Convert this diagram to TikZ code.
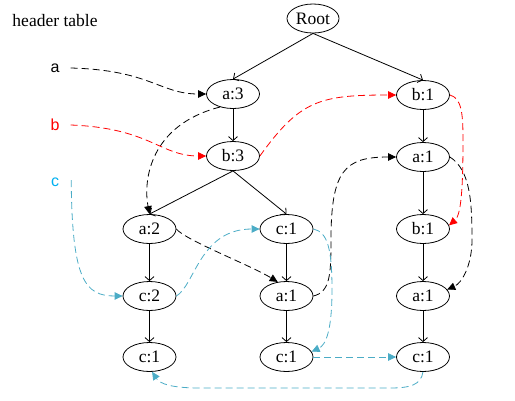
\documentclass[tikz,border=0pt]{standalone}
\usepackage{fontspec}
\setmainfont{Liberation Serif}
\newfontfamily\hdrsans{Liberation Sans}
\usetikzlibrary{arrows.meta,shapes.geometric}
\definecolor{hdrblue}{RGB}{0,176,240}
\definecolor{linkblue}{RGB}{75,172,198}
\tikzset{
  tnode/.style={ellipse,draw,line width=0.8pt,minimum width=53pt,minimum height=29pt,inner sep=0pt,
    font=\fontsize{17.5}{20}\selectfont},
  hdr/.style={font=\hdrsans\fontsize{16}{18}\selectfont,inner sep=2pt},
  tree/.style={line width=0.8pt,-{Straight Barb[length=4pt,width=9pt]}},
  link/.style={line width=0.8pt,dash pattern=on 7pt off 4pt,-{Triangle[length=8pt,width=7.5pt]}},
}
\begin{document}
\begin{tikzpicture}[x=1pt,y=-1pt]
\useasboundingbox (0,0) rectangle (515,400);
% header
\node[font=\fontsize{17.5}{20}\selectfont,inner sep=0pt] (ht) at (55,21) {header table};
\node[hdr] (ha) at (55,68) {a};
\node[hdr,text=red] (hb) at (55,125) {b};
\node[hdr,text=hdrblue] (hc) at (55,182) {c};
% tree nodes
\node[tnode,minimum width=52pt] (root) at (313,18.5) {Root};
\node[tnode] (a3) at (233,94) {a:3};
\node[tnode] (b1) at (423,95) {b:1};
\node[tnode] (b3) at (233,156) {b:3};
\node[tnode] (a1r) at (423,157) {a:1};
\node[tnode] (a2) at (149.5,229) {a:2};
\node[tnode] (c1m) at (286.5,229) {c:1};
\node[tnode] (b1r) at (423,229) {b:1};
\node[tnode] (c2) at (149.5,296) {c:2};
\node[tnode] (a1m) at (286.5,296) {a:1};
\node[tnode] (a1rr) at (423,296) {a:1};
\node[tnode] (c1l) at (149.5,357) {c:1};
\node[tnode] (c1m2) at (286.5,357) {c:1};
\node[tnode] (c1r) at (423,357) {c:1};
% tree edges
\draw[tree] (root.south) -- (a3.north);
\draw[tree] (root.south) -- (b1.north);
\draw[tree] (a3) -- (b3);
\draw[tree] (b3.south) -- (a2.north);
\draw[tree] (b3.south) -- (c1m.north);
\draw[tree] (a2) -- (c2);
\draw[tree] (c2) -- (c1l);
\draw[tree] (c1m) -- (a1m);
\draw[tree] (a1m) -- (c1m2);
\draw[tree] (b1) -- (a1r);
\draw[tree] (a1r) -- (b1r);
\draw[tree] (b1r) -- (a1rr);
\draw[tree] (a1rr) -- (c1r);
% a links (black)
\draw[link] ([xshift=9pt]ha.east) .. controls (150,70) and (160,94) .. (a3.west);
\draw[link] (a3.225) .. controls (150,125) and (143,180) .. (a2.north);
\draw[link] (a2.east) .. controls (185,240) and (250,265) .. (a1m.122);
\draw[link] (a1m.east) .. controls (330,292) and (331,275) .. (331,240)
  .. controls (331,170) and (345,157) .. (a1r.west);
\draw[link] (a1r.east) .. controls (470,170) and (472,200) .. (472,240)
  .. controls (472,265) and (462,283) .. (a1rr.15);
% b links (red)
\draw[link,red] ([xshift=9pt]hb.east) .. controls (150,128) and (160,156) .. (b3.west);
\draw[link,red] (b3.east) .. controls (300,100) and (320,95) .. (b1.west);
\draw[link,red] (b1.east) .. controls (462,98) and (463,115) .. (463,140)
  .. controls (463,190) and (461,215) .. (b1r.8);
% c links (blue)
\draw[link,linkblue] ([xshift=10pt,yshift=2pt]hc.east) .. controls (72,280) and (85,296) .. (c2.west);
\draw[link,linkblue] (c2.east) .. controls (195,285) and (200,229) .. (c1m.west);
\draw[link,linkblue] (c1m.east) .. controls (328,232) and (332,250) .. (332,290)
  .. controls (332,330) and (326,345) .. (c1m2.12);
\draw[link,linkblue] (c1m2.east) -- (c1r.west);
\draw[link,linkblue] (c1r.south) .. controls (421,385) and (410,388) .. (390,388)
  -- (200,388) .. controls (172,388) and (160,384) .. (c1l.-80);
\end{tikzpicture}
\end{document}
